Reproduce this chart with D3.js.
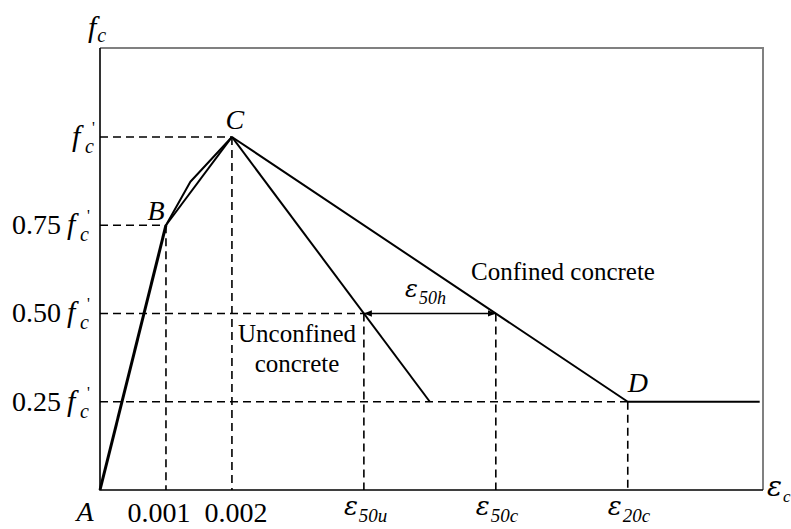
<!DOCTYPE html>
<html>
<head>
<meta charset="utf-8">
<script src="https://cdn.jsdelivr.net/npm/d3@7"></script>
<style>
  html, body { margin: 0; padding: 0; background: #fff; }
  svg { display: block; }
  text { font-family: "Liberation Serif", "Times New Roman", serif; fill: #000; }
</style>
</head>
<body>
<svg id="chart" width="791" height="529"></svg>
<script>
// Idealised stress–strain model for unconfined and confined concrete
const strainTicks = [0.001, 0.002];            // labelled strains on the x axis
const strainTickLabels = ["0.001", "0.002"];
const stressLevels = [1.0, 0.75, 0.5, 0.25];   // fractions of f'c
const stressLabels = ["", "0.75", "0.50", "0.25"];

const ascendingLine = [[0, 0], [0.001, 0.75], [0.002, 1.0]];
const ascendingCurve = [[0.001, 0.75], [0.00137, 0.873], [0.002, 1.0]];
const unconfinedBranch = [[0.002, 1.0], [0.005, 0.25]];
const confinedBranch = [[0.002, 1.0], [0.008, 0.25], [0.010, 0.25]];

const eps50u = 0.004, eps50c = 0.006, eps20c = 0.008;
const pointA = [0, 0], pointB = [0.001, 0.75], pointC = [0.002, 1.0], pointD = [0.008, 0.25];

const svg = d3.select("#chart");
const x = d3.scaleLinear().domain([0, 0.01005]).range([100, 763]);
const y = d3.scaleLinear().domain([0, 1.252]).range([490, 48]);

const line = d3.line().x(d => x(d[0])).y(d => y(d[1]));

// frame: black left/bottom axes, grey top/right border
svg.append("path")
  .attr("d", `M${x(0)},${y(1.252)}H${x(0.01005)}V${y(0)}`)
  .attr("fill", "none").attr("stroke", "#808080").attr("stroke-width", 2);
svg.append("path")
  .attr("d", `M${x(0)},${y(1.252)}V${y(0)}H${x(0.01005)}`)
  .attr("fill", "none").attr("stroke", "#000").attr("stroke-width", 1.6);

// dashed guides
const guides = svg.append("g").attr("fill", "none").attr("stroke", "#000")
  .attr("stroke-width", 1.6).attr("stroke-dasharray", "8,5");
const hGuides = [[1.0, pointC[0]], [0.75, pointB[0]], [0.5, eps50u], [0.25, pointD[0]]];
hGuides.forEach(([s, e]) => guides.append("path").attr("d", line([[0, s], [e, s]])));
const vGuides = [[0.001, 0.75], [0.002, 1.0], [eps50u, 0.5], [eps50c, 0.5], [eps20c, 0.25]];
vGuides.forEach(([e, s]) => guides.append("path").attr("d", line([[e, s], [e, 0]])));

// curves
const curves = svg.append("g").attr("fill", "none").attr("stroke", "#000").attr("stroke-linejoin", "round");
curves.append("path").attr("d", line(ascendingLine.slice(0, 2))).attr("stroke-width", 3);
curves.append("path").attr("d", line(ascendingLine.slice(1))).attr("stroke-width", 2);
curves.append("path").attr("d", line(ascendingCurve)).attr("stroke-width", 2);
curves.append("path").attr("d", line(unconfinedBranch)).attr("stroke-width", 2);
curves.append("path").attr("d", line(confinedBranch)).attr("stroke-width", 2);

// double-headed arrow for ε50h
const defs = svg.append("defs");
["start", "end"].forEach(k => {
  defs.append("marker").attr("id", "arrow-" + k)
    .attr("viewBox", "0 0 10 10").attr("refX", k === "end" ? 10 : 0).attr("refY", 5)
    .attr("markerWidth", 8).attr("markerHeight", 8).attr("markerUnits", "userSpaceOnUse")
    .attr("orient", "auto")
    .append("path")
    .attr("d", k === "end" ? "M0,1L10,5L0,9Z" : "M10,1L0,5L10,9Z")
    .attr("fill", "#000");
});
svg.append("path")
  .attr("d", line([[eps50u, 0.5], [eps50c, 0.5]]))
  .attr("stroke", "#000").attr("stroke-width", 1.6)
  .attr("marker-start", "url(#arrow-start)").attr("marker-end", "url(#arrow-end)");

const labels = svg.append("g");

// symbol with italic subscript
function symbol(xPos, yPos, main, sub, o) {
  const t = labels.append("text").attr("x", xPos).attr("y", yPos)
    .style("font-size", o.size + "px");
  const m = t.append("tspan").text(main).style("font-style", "italic");
  if (o.mainFont) m.style("font-family", o.mainFont);
  t.append("tspan").text(sub).attr("dy", o.subDy).attr("dx", o.subDx || 1)
    .style("font-size", o.subSize + "px").style("font-style", "italic");
  return t;
}

// f'c drawn as separate pieces: f, prime, subscript c
function fPrimeC(xPos, yPos) {
  labels.append("text").attr("x", xPos).attr("y", yPos)
    .style("font-size", "30px").style("font-style", "italic").text("f");
  labels.append("text").attr("x", xPos + 20).attr("y", yPos - 13)
    .style("font-size", "16px").text("'");
  labels.append("text").attr("x", xPos + 13).attr("y", yPos + 7)
    .style("font-size", "20px").style("font-style", "italic").text("c");
}

// y-axis title
symbol(88, 37, "f", "c", { size: 30, subSize: 20, subDy: 5 });
// x-axis title
symbol(767, 496, "ε", "c", { size: 28, subSize: 17, subDy: 6, subDx: 0, mainFont: "DejaVu Serif" });

// stress-level tick labels
stressLevels.forEach((s, i) => {
  const yy = y(s) + 9;
  if (stressLabels[i]) {
    labels.append("text").attr("x", 12).attr("y", yy).style("font-size", "28px").text(stressLabels[i]);
  }
  fPrimeC(stressLabels[i] ? 67 : 72, yy);
});

// strain tick labels
const tickShift = [-7, 4];
strainTicks.forEach((e, i) => {
  labels.append("text").attr("x", x(e) + tickShift[i]).attr("y", 522).attr("text-anchor", "middle")
    .style("font-size", "28px").text(strainTickLabels[i]);
});

// ε labels beneath the axis
[[eps50u, "50u"], [eps50c, "50c"], [eps20c, "20c"]].forEach(([e, sub]) => {
  symbol(x(e) - 20, 515, "ε", sub, { size: 26, subSize: 19, subDy: 7, mainFont: "DejaVu Serif" });
});

// ε50h above the arrow
symbol(405, 297, "ε", "50h", { size: 24, subSize: 18, subDy: 7, mainFont: "DejaVu Serif" });

// point letters
const letter = (txt, xx, yy) => labels.append("text").attr("x", xx).attr("y", yy)
  .attr("text-anchor", "middle").style("font-size", "28px").style("font-style", "italic").text(txt);
letter("A", x(pointA[0]) - 15, 521);
letter("B", x(pointB[0]) - 10, 220);
letter("C", x(pointC[0]) + 3, 129);
letter("D", x(pointD[0]) + 10, 392);

// branch names
const body = (txt, xx, yy) => labels.append("text").attr("x", xx).attr("y", yy)
  .attr("text-anchor", "middle").style("font-size", "25px").text(txt);
body("Unconfined", 297, 342);
body("concrete", 297, 372);
body("Confined concrete", 563, 280);
</script>
</body>
</html>
